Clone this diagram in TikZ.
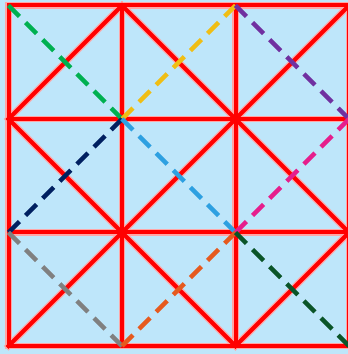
\documentclass[tikz,border=0pt]{standalone}
\definecolor{bg}{RGB}{190,230,250}
\definecolor{cgreen}{RGB}{0,176,80}
\definecolor{cyellow}{RGB}{240,190,20}
\definecolor{cpurple}{RGB}{112,48,160}
\definecolor{cnavy}{RGB}{0,32,96}
\definecolor{cblue}{RGB}{45,160,225}
\definecolor{cmagenta}{RGB}{230,30,140}
\definecolor{cgray}{RGB}{128,128,128}
\definecolor{corange}{RGB}{230,90,30}
\definecolor{cdkgreen}{RGB}{10,85,40}
\begin{document}
\begin{tikzpicture}[x=1pt,y=1pt,
  redglow/.style={draw=red!35, line width=6.5pt, line cap=rect},
  redline/.style={draw=red, line width=4pt, line cap=rect},
  dashline/.style={line width=4.5pt, dash pattern=on 15.5pt off 8.7pt}]
\useasboundingbox (0,0) rectangle (348,354);
\clip (0,0) rectangle (348,354);
\fill[bg] (0,0) rectangle (348,354);
\foreach \i in {0,...,3}{\foreach \j in {0,...,3}{
  \coordinate (p\i\j) at ({8.5+113.5*\i},{354-5.5-113.5*\j});}}
\foreach \s in {redglow,redline}{
  \foreach \k in {0,...,3}{
    \draw[\s] (p0\k) -- (p3\k);
    \draw[\s] (p\k0) -- (p\k3);}
  \foreach \a/\b in {01/10,10/21,21/30,01/12,12/21,21/32,03/12,12/23,23/32}{
    \draw[\s] (p\a) -- (p\b);}
}
\draw[dashline,cgreen] (p00) -- (p11);
\draw[dashline,cyellow] (p11) -- (p20);
\draw[dashline,cpurple] (p20) -- (p31);
\draw[dashline,cnavy] (p02) -- (p11);
\draw[dashline,cblue] (p11) -- (p22);
\draw[dashline,cmagenta] (p22) -- (p31);
\draw[dashline,cgray] (p02) -- (p13);
\draw[dashline,corange] (p13) -- (p22);
\draw[dashline,cdkgreen] (p22) -- (p33);
\end{tikzpicture}
\end{document}
